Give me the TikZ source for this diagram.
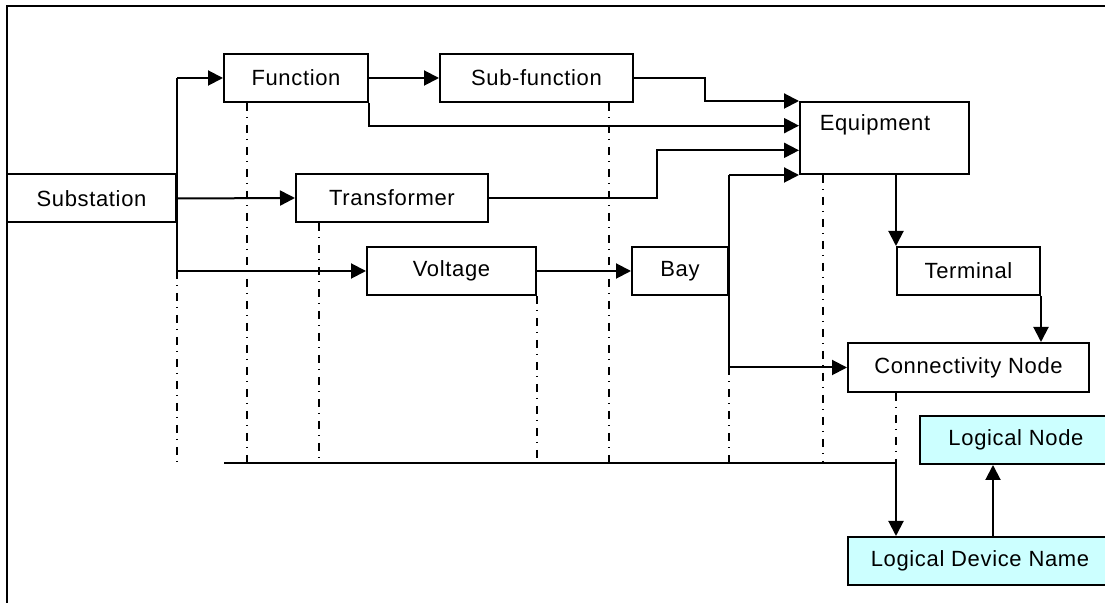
\documentclass[tikz,border=0pt]{standalone}
\usepackage{fontspec}
\setmainfont{Liberation Sans}[LetterSpace=3]
\usetikzlibrary{arrows.meta,calc}
\definecolor{lncyan}{RGB}{204,255,255}
\begin{document}
\begin{tikzpicture}[x=0.5pt,y=-0.5pt,line width=1pt,
		box/.style={draw, inner sep=0pt, minimum height=24pt, font=\fontsize{11}{13}\selectfont},
		lnbox/.style={box, fill=lncyan},
		arr/.style={-{Triangle[length=7.5pt,width=7.5pt]}},
		lifeline/.style={line width=1pt, dash pattern=on 4pt off 3pt on 0.5pt off 3.5pt}]
	\useasboundingbox (0,0) rectangle (1105,603);
	\draw (7,603) -- (7,6) -- (1105,6);

	\node[box, minimum width=84.5pt] (sub) at (91.5,198.5) {Substation};
	\node[box, minimum width=72pt] (fun) at (296,78) {Function};
	\node[box, minimum width=96.5pt] (subfun) at (536.5,78) {Sub-function};
	\node[box, minimum width=96pt] (trafo) at (392,198) {Transformer};
	\node[box, minimum width=84.5pt] (volt) at (451.5,271) {Voltage};
	\node[box, minimum width=48pt] (bay) at (680,271) {Bay};
	\node[box, minimum width=84.5pt, minimum height=36pt] (equip) at (884.5,138) {};
	\node[font=\fontsize{11}{13}\selectfont] (eqlabel) at ($(equip.north west)+(76,24)$) {Equipment};
	\node[box, minimum width=71.5pt] (term) at (968.5,271) {Terminal};
	\node[box, minimum width=120.5pt, minimum height=24.5pt] (cn) at (968.5,367.5) {Connectivity Node};
	\node[lnbox, minimum width=96pt] (ln) at (1016,440) {Logical Node};
	\node[lnbox, minimum width=132pt] (ldn) at (980,561) {Logical Device Name};

	\coordinate (e2) at ($(equip.north west)!1/3!(equip.south west)$);
	\coordinate (e3) at ($(equip.north west)!2/3!(equip.south west)$);
	\coordinate (bus) at (224,463);
	\coordinate (lnx) at (993,0);

	\draw (fun.west -| sub.east) -- (volt.west -| sub.east);
	\draw[arr] (fun.west -| sub.east) -- (fun.west);
	\draw[arr] (sub.east) -- (trafo.west);
	\draw[arr] (volt.west -| sub.east) -- (volt.west);
	\draw[arr] (fun) -- (subfun);
	\draw[arr] (volt) -- (bay);
	\draw[arr] (fun.south east) |- (e2);
	\draw[arr] (subfun.east) -- ++(71,0) |- (equip.north west);
	\draw[arr] (trafo.east) -- ++(168,0) |- (e3);
	\draw[arr] (equip.south west -| bay.east) -- (equip.south west);
	\draw[arr] (equip.south west -| bay.east) |- (cn.west);
	\draw[arr] (term.north west |- equip.south) -- (term.north west);
	\draw[arr] (term.south east) -- (term.south east |- cn.north);
	\draw (bus) -- (bus -| term.west);
	\draw[arr] (bus -| term.west) -- (term.west |- ldn.north);
	\draw[arr] (ldn.north -| lnx) -- (ln.south -| lnx);

	\coordinate (l1) at (volt.west -| sub.east);
	\coordinate (l2) at ($(fun.south west)+(24,0)$);
	\coordinate (l3) at ($(trafo.south west)+(24,0)$);
	\coordinate (l4) at (volt.south east);
	\coordinate (l5) at ($(subfun.south east)+(-25,0)$);
	\coordinate (l6) at (cn.west -| bay.east);
	\coordinate (l7) at ($(equip.south west)+(24,0)$);
	\coordinate (l8) at (cn.south -| term.west);
	\foreach \s in {l1,l2,l3,l4,l5,l6,l7,l8}
		\draw[lifeline] (\s) -- (\s |- bus);
\end{tikzpicture}
\end{document}
